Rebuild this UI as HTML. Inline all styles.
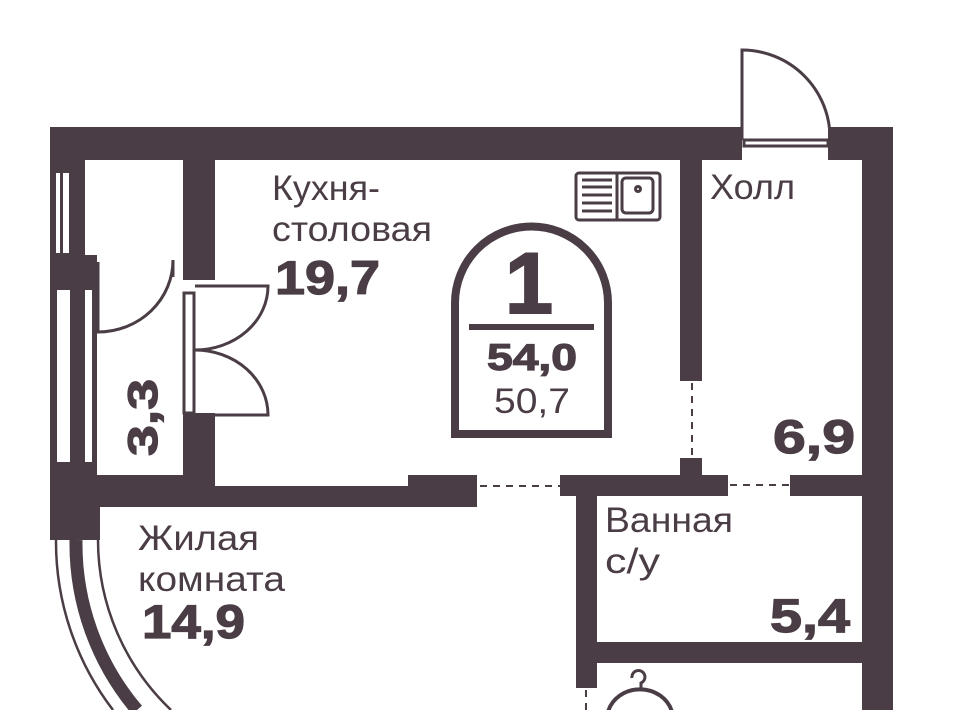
<!DOCTYPE html>
<html><head><meta charset="utf-8"><style>
html,body{margin:0;padding:0;background:#fff;}
body{width:960px;height:710px;overflow:hidden;position:relative;}
svg{position:absolute;left:0;top:0;}
text{font-family:"Liberation Sans",sans-serif;fill:#4a3d45;}
.l{font-size:35px;font-weight:normal;}
.b{font-size:47px;font-weight:bold;stroke:#4a3d45;stroke-width:1.2;}
</style></head><body>
<svg width="960" height="710" viewBox="0 0 960 710">
<g fill="#4a3d45">
<rect x="50" y="127" width="692" height="33"/>
<rect x="828" y="127" width="65" height="33"/>
<rect x="862" y="127" width="31" height="583"/>
<rect x="50" y="127" width="50" height="413"/>
<rect x="183" y="158" width="32" height="122"/>
<rect x="183" y="413" width="32" height="94"/>
<rect x="50" y="486" width="427" height="21"/>
<rect x="408" y="475" width="69" height="32"/>
<rect x="85" y="475" width="130" height="12"/>
<rect x="680" y="158" width="22" height="223"/>
<rect x="680" y="458" width="22" height="20"/>
<rect x="560" y="475" width="168" height="21"/>
<rect x="790" y="475" width="72" height="21"/>
<rect x="576" y="475" width="21" height="213"/>
<rect x="597" y="642" width="265" height="21"/>
</g>
<g fill="#fff">
<rect x="85" y="160" width="98" height="95"/>
<rect x="56" y="173" width="4" height="80"/>
<rect x="63" y="173" width="6" height="80"/>
<rect x="97" y="255" width="86" height="220"/>
<rect x="57" y="290" width="13" height="172"/>
<rect x="85" y="290" width="7" height="172"/>
</g>
<g fill="none" stroke="#4a3d45">
<path d="M56,540 A277,277 0 0 0 113,710" stroke-width="2.5"/>
<path d="M76,540 A257,257 0 0 0 137,710" stroke-width="13"/>
<path d="M98,540 A235,235 0 0 0 171,710" stroke-width="2.5"/>
</g>
<g fill="none" stroke="#4a3d45" stroke-width="3">
<path d="M742,140 V50 A88,88 0 0 1 830,138"/>
<rect x="744" y="140" width="84" height="6"/>
<path d="M98,262 V332 A75,72 0 0 0 173,260 V277"/>
<rect x="184" y="293" width="10" height="120"/>
<path d="M195,286 H268 A73,64 0 0 1 195,350 A73,65 0 0 1 268,415 H195"/>
<rect x="576" y="173" width="84" height="47" rx="3"/>
<line x1="617" y1="173" x2="617" y2="220"/>
<rect x="622" y="178" width="31" height="35" rx="4"/>
<circle cx="638" cy="189" r="2.5"/>
<line x1="582" y1="180" x2="612" y2="180"/>
<line x1="582" y1="187" x2="612" y2="187"/>
<line x1="582" y1="195" x2="612" y2="195"/>
<line x1="582" y1="203" x2="612" y2="203"/>
<line x1="582" y1="211" x2="612" y2="211"/>
<path d="M632,678 a6.5,6.5 0 1 1 9,5 v7"/>
<path d="M608,712 A33,30 0 0 1 672,712" stroke-width="4"/>
</g>
<g stroke="#4a3d45" stroke-width="2" stroke-dasharray="7,6" fill="none">
<line x1="692" y1="383" x2="692" y2="458"/>
<line x1="480" y1="486" x2="560" y2="486"/>
<line x1="730" y1="485" x2="790" y2="485"/>
<line x1="586" y1="690" x2="586" y2="710"/>
</g>
<path d="M455,434 V303 A76,76 0 0 1 608,303 V434 Z" fill="none" stroke="#4a3d45" stroke-width="8"/>
<rect x="469" y="324" width="125" height="6" fill="#4a3d45"/>
<text x="505" y="313" textLength="48" lengthAdjust="spacingAndGlyphs" style="font-size:86px;font-weight:bold;stroke:#4a3d45;stroke-width:2">1</text>
<text class="b" x="487" y="370" textLength="90" lengthAdjust="spacingAndGlyphs" style="font-size:37px">54,0</text>
<text class="l" x="494" y="413" textLength="76" lengthAdjust="spacingAndGlyphs">50,7</text>
<text class="l" x="272" y="200" textLength="108" lengthAdjust="spacingAndGlyphs">Кухня-</text>
<text class="l" x="272" y="241" textLength="160" lengthAdjust="spacingAndGlyphs">столовая</text>
<text class="b" x="275" y="294" textLength="105" lengthAdjust="spacingAndGlyphs">19,7</text>
<text class="l" x="710" y="199" textLength="85" lengthAdjust="spacingAndGlyphs">Холл</text>
<text class="b" x="773" y="453" textLength="82" lengthAdjust="spacingAndGlyphs">6,9</text>
<text class="l" x="605" y="532" textLength="128" lengthAdjust="spacingAndGlyphs">Ванная</text>
<text class="l" x="605" y="573" textLength="55" lengthAdjust="spacingAndGlyphs">с/у</text>
<text class="b" x="770" y="632" textLength="80" lengthAdjust="spacingAndGlyphs">5,4</text>
<text class="l" x="138" y="550" textLength="121" lengthAdjust="spacingAndGlyphs">Жилая</text>
<text class="l" x="138" y="591" textLength="147" lengthAdjust="spacingAndGlyphs">комната</text>
<text class="b" x="142" y="638" textLength="103" lengthAdjust="spacingAndGlyphs">14,9</text>
<text class="b" x="0" y="0" transform="translate(157,456) rotate(-90)" textLength="77" lengthAdjust="spacingAndGlyphs" style="font-size:42px">3,3</text>
</svg>
</body></html>
